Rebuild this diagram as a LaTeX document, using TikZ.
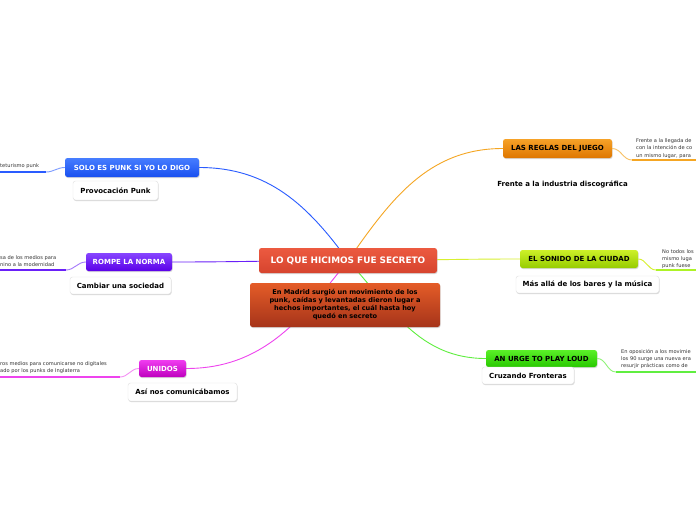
\documentclass[tikz,border=0pt]{standalone}
\usepackage{fontspec}
\setmainfont{DejaVu Sans}
\usetikzlibrary{shadows,backgrounds}
\definecolor{cblue}{HTML}{2A5CFF}
\definecolor{corange}{HTML}{F5A623}
\definecolor{cpurple}{HTML}{6A20F8}
\definecolor{cyellow}{HTML}{D8F030}
\definecolor{cmagenta}{HTML}{EE44EE}
\definecolor{cgreen}{HTML}{60EE40}
\definecolor{notegray}{HTML}{333333}
\tikzset{
  mainbox/.style={rounded corners=2.5pt, inner sep=0pt, align=center, font=\bfseries,
    drop shadow={shadow xshift=0.6pt, shadow yshift=-1pt, opacity=0.3}},
  subbox/.style={rounded corners=2.5pt, inner sep=0pt, fill=white, draw=black!12,
    font=\fontsize{7}{8}\selectfont\bfseries,
    drop shadow={shadow xshift=0.6pt, shadow yshift=-1pt, opacity=0.3}},
  branchlabel/.style={mainbox, font=\fontsize{7}{8}\selectfont\bfseries},
  note/.style={inner sep=0pt, align=left, text=notegray, font=\fontsize{5.1}{7.3}\selectfont},
  conn/.style={line width=0.9pt},
  thick line/.style={line width=2.4pt},
}
\begin{document}
\begin{tikzpicture}[x=1pt,y=-1pt]
\useasboundingbox (0,0) rectangle (696,520);

% central
\node[mainbox, minimum width=178pt, minimum height=25pt, text=white,
  font=\fontsize{8.9}{10}\selectfont\bfseries,
  top color={rgb,255:red,236;green,90;blue,64}, bottom color={rgb,255:red,214;green,68;blue,46}]
  (c) at (348,260.5) {LO QUE HICIMOS FUE SECRETO};
\node[mainbox, minimum width=190pt, minimum height=44pt, text width=180pt,
  top color={rgb,255:red,228;green,92;blue,40}, bottom color={rgb,255:red,166;green,52;blue,26},
  text=black, font=\fontsize{6.6}{8}\selectfont\bfseries]
  (d) at (345,305) {En Madrid surgió un movimiento de los\\punk, caídas y levantadas dieron lugar a\\hechos importantes, el cuál hasta hoy\\quedó en secreto};

% branches left
\node[branchlabel, minimum width=134pt, minimum height=19pt, text=white,
  top color={rgb,255:red,70;green,125;blue,255}, bottom color={rgb,255:red,25;green,80;blue,240}]
  (bl) at (132,167.5) {SOLO ES PUNK SI YO LO DIGO};
\node[subbox, minimum width=85pt, minimum height=19pt] (bls) at (115.5,190.5) {Provocación Punk};

\node[branchlabel, minimum width=86pt, minimum height=18pt, text=white,
  top color={rgb,255:red,135;green,70;blue,255}, bottom color={rgb,255:red,90;green,0;blue,232}]
  (pu) at (129,262) {ROMPE LA NORMA};
\node[subbox, minimum width=101pt, minimum height=17pt] (pus) at (120.5,285.5) {Cambiar una sociedad};

\node[branchlabel, minimum width=47pt, minimum height=17pt, text=white,
  top color={rgb,255:red,240;green,60;blue,240}, bottom color={rgb,255:red,190;green,0;blue,190}]
  (un) at (162.5,368.5) {UNIDOS};
\node[subbox, minimum width=109pt, minimum height=18pt] (uns) at (182.5,392) {Así nos comunicábamos};

% branches right
\node[branchlabel, minimum width=109pt, minimum height=19pt, text=black,
  top color={rgb,255:red,246;green,162;blue,40}, bottom color={rgb,255:red,222;green,118;blue,0}]
  (lr) at (557.5,148.5) {LAS REGLAS DEL JUEGO};
\node[inner sep=0pt, font=\fontsize{7}{8}\selectfont\bfseries] (lrs) at (562.5,184) {Frente a la industria discográfica};

\node[branchlabel, minimum width=118pt, minimum height=18pt, text=black,
  top color={rgb,255:red,205;green,240;blue,40}, bottom color={rgb,255:red,150;green,204;blue,0}]
  (so) at (579,259) {EL SONIDO DE LA CIUDAD};
\node[subbox, minimum width=143pt, minimum height=17pt] (sos) at (587.5,284.5) {Más allá de los bares y la música};

\node[branchlabel, minimum width=111pt, minimum height=17pt, text=black,
  top color={rgb,255:red,90;green,240;blue,40}, bottom color={rgb,255:red,40;green,200;blue,0}]
  (au) at (541.5,358.5) {AN URGE TO PLAY LOUD};
\node[subbox, minimum width=92pt, minimum height=17pt] (aus) at (528,375.5) {Cruzando Fronteras};

% side notes
\node[note, anchor=west] (bn) at (0,166) {teturismo punk};
\node[note, anchor=west] (pn) at (0,261) {sa de los medios para\\nino a la modernidad};
\node[note, anchor=west] (unn) at (0,367.5) {ros medios para comunicarse no digitales\\ado por los punks de Inglaterra};
\node[note, anchor=west] (lrn) at (636,148.5) {Frente a la llegada de\\con la intención de co\\un mismo lugar, para};
\node[note, anchor=west] (son) at (662,259) {No todos los\\mismo luga\\punk fuese};
\node[note, anchor=west] (aun) at (621,359) {En oposición a los movimie\\los 90 surge una nueva era\\resurjir prácticas como de};

\coordinate (bE) at (46,172);   \coordinate (bF) at (0,172);
\coordinate (pE) at (66,270);   \coordinate (pF) at (0,270);
\coordinate (uE) at (120,377);  \coordinate (uF) at (0,377);
\coordinate (lE) at (632,160);  \coordinate (lF) at (696,160);
\coordinate (sE) at (656,270);  \coordinate (sF) at (696,270);
\coordinate (aE) at (616,372);  \coordinate (aF) at (696,372);

\begin{scope}[on background layer]
  \fill[white] (0,0) rectangle (696,520);
  \draw[conn, cblue] (c.center) to[out=126,in=0] (bl.east);
  \draw[conn, corange] (c.center) to[out=55,in=180] (lr.west);
  \draw[conn, cpurple] (c.center) to[out=180,in=0] (pu.east);
  \draw[conn, cyellow] (c.center) to[out=0,in=180] (so.west);
  \draw[conn, cmagenta] (c.center) to[out=232,in=0] (un.east);
  \draw[conn, cgreen] (c.center) to[out=312,in=180] (au.west);
\end{scope}

% side connectors
\draw[conn, cblue!60] (bl.west) to[out=180,in=0] (bE);
\draw[thick line, cblue] (bE) -- (bF);
\draw[conn, cpurple!60] (pu.west) to[out=180,in=0] (pE);
\draw[thick line, cpurple] (pE) -- (pF);
\draw[conn, cmagenta!60] (un.west) to[out=180,in=0] (uE);
\draw[thick line, cmagenta] (uE) -- (uF);
\draw[conn, corange!70] (lr.east) to[out=0,in=180] (lE);
\draw[thick line, corange] (lE) -- (lF);
\draw[conn, cyellow] (so.east) to[out=0,in=180] (sE);
\draw[thick line, cyellow!80!green] (sE) -- (sF);
\draw[conn, cgreen!70] (au.east) to[out=0,in=180] (aE);
\draw[thick line, cgreen] (aE) -- (aF);
\end{tikzpicture}
\end{document}
